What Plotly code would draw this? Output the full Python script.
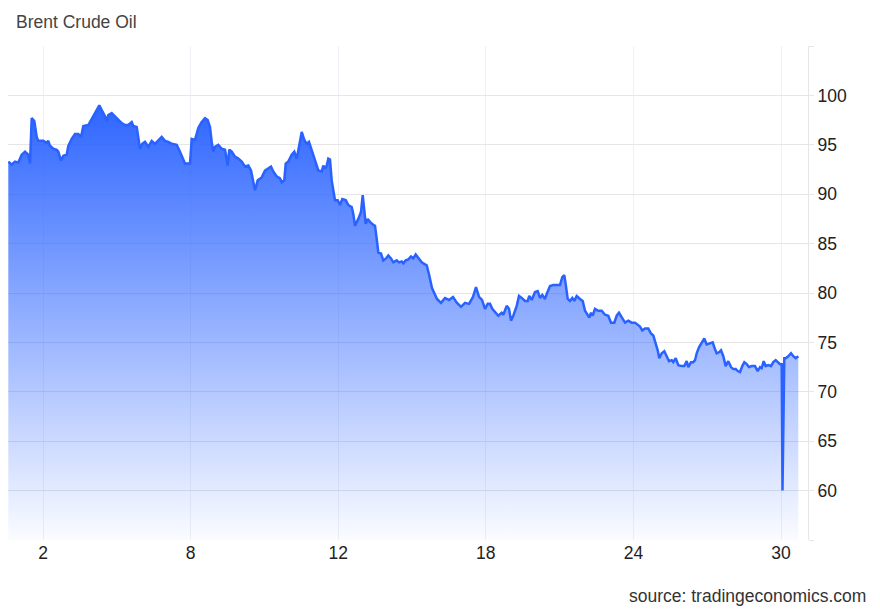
import plotly.graph_objects as go

# time index (trading-time units; tick "2" at 0, one tick interval = 147.6)
t = [-34.7, -31.3, -28, -24.7, -21.3, -18, -14.7, -13, -11.3, -8.7, -6.3, -4.7, 0.3, 3.7, 5.3, 7, 10.3, 13.7, 15.3, 18,
     20.3, 23.7, 25.3, 28.7, 32, 35.3, 38, 40.3, 45.3, 49.3, 53.7, 56.3, 59.3, 62, 63.7, 65.3, 68.7, 72, 75.3, 78.7,
     82, 85.3, 88.7, 90.3, 93.7, 95.3, 97, 99.3, 102, 105.3, 108.7, 112, 115.3, 118.7, 122,
     125.3, 128.7, 133.7, 137, 140.3, 142, 147, 148.7, 152, 155.3, 158.7, 162, 164.7, 167, 168.7, 170.3, 172, 175.3,
     178.7, 182, 184.7, 186.3, 188.7, 192, 195.3, 198.7, 202, 205.3, 208, 210.3, 212, 214.7, 218.7, 222, 225.3, 228,
     230.3, 233.7, 237, 238.7, 241.3, 242.7, 245.3, 248.7, 251.3, 253.7, 256, 258.7, 261.3, 263.7, 266, 268.7, 272,
     275.3, 278.7, 280.3,
     282, 283.7, 285.3, 287, 288.7, 290.3, 292, 294.7, 297, 299.3, 302.7, 305.3, 308.7, 310.3, 312, 315.3, 318, 319.7,
     321.3, 322.7, 324.7, 327, 330.3, 332, 333.7, 335.3, 338, 340.3, 343, 345.3, 348, 350.3, 353.7, 356, 358.7, 360.3,
     362.7, 365.3, 368, 370.3, 372.7, 375.3, 378.7, 382, 383.7, 386,
     389, 394, 398, 402, 406, 410, 414, 418, 422, 426, 430, 433, 436, 439,
     442, 444.7, 447, 449.3, 452, 455.3, 458.7, 460.3, 463.7, 466, 468, 470.3, 473.7, 476, 478.7, 482, 484.7, 486.3,
     488.7, 492, 494.7, 497, 499.3, 502, 503.7, 507, 510.3, 513.7, 517, 519.3, 521.3, 522.7, 524.7, 527, 529.3, 531.3,
     533.7, 537, 539.7, 542, 544.7, 546.3, 548, 549.7, 552, 555.3, 558.7, 562, 565.3, 568, 571.3, 573.7, 576, 578.7,
     582, 585.3, 588.7, 592, 594.7, 597, 599.3, 602,
     605.3, 608, 610.3, 612.7, 614.7, 616.3, 618.7, 621.3, 623.7, 626, 628.7, 630.3, 632.7, 635.3, 638.7, 641.3, 643.7,
     645.3, 648, 650.3, 652, 653.7, 656, 658.7, 661.3, 663.7, 667, 669.7, 672, 673.7, 676, 678, 680.3, 682.7, 685.3,
     688, 690.3, 692.7, 694.7, 697, 699.3, 701.3, 703.7, 706, 708.7, 712, 714.7, 717, 718.7, 720.7, 722.7, 725.3, 728,
     730.3, 732.7, 735.3, 737, 738.7, 739.5, 741.3, 742.7, 745.3, 748, 750.3, 752.7, 755.3]

price = [93.3, 93.0, 93.3, 93.2, 94.0, 94.3, 94.0, 93.1, 97.7, 97.4, 95.8, 95.4, 95.4, 95.2, 95.4, 94.9, 94.6, 94.5, 94.3, 93.4,
         93.9, 94.0, 94.9, 95.6, 96.1, 96.1, 95.8, 96.9, 97.0, 97.7, 98.4, 99.0, 98.4, 97.9, 97.4, 98.0, 98.2, 97.9, 97.5, 97.2,
         97.0, 97.0, 97.3, 96.9, 96.8, 95.8, 94.6, 95.1, 95.3, 94.8, 95.4, 95.1, 95.4, 95.8, 95.4,
         95.3, 95.1, 95.0, 94.3, 93.6, 93.1, 93.1, 95.6, 95.5, 96.7, 97.3, 97.7, 97.5, 96.8, 95.3, 94.3, 94.8, 95.0,
         94.6, 94.5, 92.9, 94.5, 94.3, 93.8, 93.6, 93.3, 92.8, 92.9, 92.4, 91.4, 90.4, 91.4, 91.7, 92.4, 92.6, 92.8,
         92.3, 91.8, 91.6, 91.2, 91.4, 93.1, 93.3, 94.0, 94.3, 93.6, 94.8, 96.3, 95.5, 95.1, 95.3, 94.5, 93.4,
         92.4, 92.3, 92.9,
         92.6, 92.9, 93.6, 93.5, 91.4, 90.6, 89.4, 89.4, 88.9, 89.5, 89.4, 88.9, 88.7, 88.0, 86.8, 87.5, 88.2, 89.9,
         88.0, 87.0, 87.5, 87.2, 86.9, 86.8, 85.5, 84.1, 84.0, 83.3, 83.5, 83.8, 83.5, 83.1, 83.3, 83.1, 83.2, 83.0,
         83.3, 83.4, 83.7, 83.5, 83.9, 83.5, 83.1, 82.9, 82.8, 81.9,
         80.5, 79.4, 79.0, 79.5, 79.3, 79.6, 79.0, 78.6, 79.0, 78.9, 79.6, 80.6, 79.6, 79.3,
         78.4, 78.9, 78.9, 78.4, 78.1, 77.7, 78.0, 77.8, 78.7, 78.4, 77.2, 77.7, 78.7, 79.7, 79.5, 79.2, 79.2, 79.7,
         79.3, 80.1, 80.2, 79.5, 79.8, 79.4, 79.9, 80.7, 80.8, 80.8, 80.8, 81.6, 81.8, 80.9, 79.4, 79.2, 79.5, 79.2,
         79.7, 79.4, 79.2, 78.2, 77.8, 77.5, 78.0, 77.7, 78.4, 78.2, 78.2, 77.8, 77.7, 77.0, 77.0, 77.7, 78.0, 77.5,
         77.0, 77.2, 77.0, 77.0, 76.8, 76.6, 76.2, 76.4,
         76.4, 75.9, 75.7, 74.9, 74.2, 73.4, 73.9, 74.1, 73.6, 73.1, 73.2, 73.0, 73.4, 72.7, 72.6, 72.6, 73.1,
         72.5, 73.0, 73.0, 73.2, 73.9, 74.5, 75.0, 75.4, 74.8, 74.9, 75.0, 74.3, 73.9, 74.0, 74.2, 73.6, 72.6, 73.1,
         72.5, 72.3, 72.3, 72.1, 72.0, 72.6, 73.0, 72.8, 72.5, 72.6, 72.6, 72.1, 72.5, 72.4, 73.1, 72.6, 72.7, 72.6,
         73.0, 73.2, 73.0, 72.8, 72.8, 60.0, 73.4, 73.4, 73.6, 73.9, 73.6, 73.4, 73.6]

tick_pos = [0, 147.6, 295.2, 442.8, 590.4, 738]
tick_labels = ["2", "8", "12", "18", "24", "30"]
y_ticks = [55, 60, 65, 70, 75, 80, 85, 90, 95, 100, 105]
y_labels = ["", "60", "65", "70", "75", "80", "85", "90", "95", "100", ""]

FONT = "Liberation Sans, Arial, sans-serif"
BLUE = "#2962ff"

fig = go.Figure()
fig.add_trace(go.Scatter(
    x=t, y=price, mode="lines",
    line=dict(color=BLUE, width=2.5),
    fill="tozeroy",
    fillgradient=dict(type="vertical",
                      colorscale=[[0, "rgba(41,98,255,0.02)"], [1, "rgba(41,98,255,1)"]],
                      start=55, stop=100),
    hoverinfo="x+y", showlegend=False,
))

fig.update_layout(
    width=880, height=610,
    margin=dict(l=8, r=72, t=46, b=70),
    paper_bgcolor="white", plot_bgcolor="white",
    font=dict(family=FONT, size=17.5, color="#222"),
    title=dict(text="Brent Crude Oil", x=16/880, xanchor="left", xref="container",
               y=1-22/610, yanchor="middle", yref="container",
               font=dict(family=FONT, size=17.5, color="#444")),
    xaxis=dict(range=[-35, 765], tickvals=tick_pos, ticktext=tick_labels,
               showgrid=True, gridcolor="#eef1f5", gridwidth=1, zeroline=False,
               showline=False, ticks="", tickfont=dict(size=17.5, color="#222")),
    yaxis=dict(range=[55, 105], side="right", tickvals=y_ticks, ticktext=y_labels,
               showgrid=True, gridcolor="#e6e6e6", gridwidth=1, zeroline=False,
               showline=True, linecolor="#e6e6e6", linewidth=1,
               ticks="outside", ticklen=5, tickcolor="#e6e6e6",
               tickfont=dict(size=17.5, color="#222")),
    annotations=[dict(text="source: tradingeconomics.com", xref="paper", yref="paper",
                      x=(868-8)/800, y=(540-596)/494, xanchor="right", yanchor="middle",
                      showarrow=False, font=dict(family=FONT, size=17.5, color="#333"))],
)

fig.write_html("out.html")
